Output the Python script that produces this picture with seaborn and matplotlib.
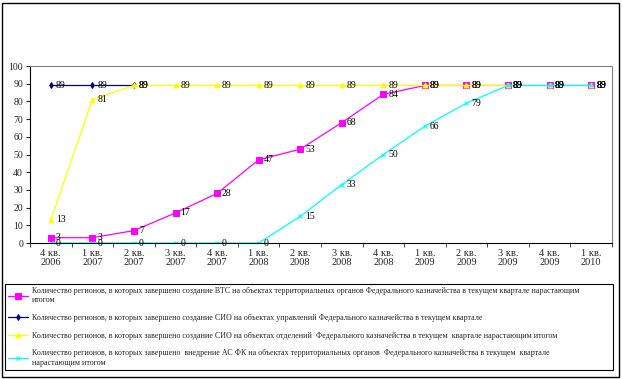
import numpy as np
import pandas as pd
import matplotlib
matplotlib.use("Agg")
import matplotlib.pyplot as plt
import seaborn as sns
from matplotlib.patches import Rectangle

# данные
quarters = ["4 кв.\n2006", "1 кв.\n2007", "2 кв.\n2007", "3 кв.\n2007", "4 кв.\n2007",
            "1 кв.\n2008", "2 кв.\n2008", "3 кв.\n2008", "4 кв.\n2008", "1 кв.\n2009",
            "2 кв.\n2009", "3 кв.\n2009", "4 кв.\n2009", "1 кв.\n2010"]
vts = [3, 3, 7, 17, 28, 47, 53, 68, 84, 89, 89, 89, 89, 89]
sio_upr = [89, 89, 89]
sio_otd = [13, 81, 89, 89, 89, 89, 89, 89, 89, 89, 89, 89, 89, 89]
as_fk = [0, 0, 0, 0, 0, 0, 15, 33, 50, 66, 79, 89, 89, 89]

labels = [
    "Количество регионов, в которых завершено создание ВТС на объектах территориальных органов Федерального казначейства в текущем квартале нарастающим\nитогом",
    "Количество регионов, в которых завершено создание СИО на объектах управлений Федерального казначейства в текущем квартале",
    "Количество регионов, в которых завершено создание СИО на объектах отделений  Федерального казначейства в текущем  квартале нарастающим итогом",
    "Количество регионов, в которых завершено  внедрение АС ФК на объектах территориальных органов  Федерального казначейства в текущем  квартале\nнарастающим итогом",
]

sns.set_style("white")
plt.rcParams['font.family'] = ['Liberation Serif', 'DejaVu Serif']

fig = plt.figure(figsize=(6.22, 3.79), dpi=100)
ax = fig.add_axes([30 / 622, 1 - 243 / 379, 582 / 622, 177 / 379])

series = [
    (vts, "#FF00FF", "s", 4, labels[0]),
    (sio_upr, "#000080", "d", 3, labels[1]),
    (sio_otd, "#FFFF00", "^", 3.5, labels[2]),
    (as_fk, "#00FFFF", "x", 3, labels[3]),
]

for vals, color, marker, ms, lab in series:
    x = np.arange(len(vals))
    sns.lineplot(x=x, y=vals, ax=ax, color=color, marker=marker, markersize=ms,
                 markeredgecolor=color, linewidth=0.9, label=lab, legend=False)
    for xi, yi in zip(x, vals):
        ax.text(xi + 0.12, yi, str(yi), fontsize=7, va="center", ha="left", color="black")

ax.set_xlim(-0.5, len(quarters) - 0.5)
ax.set_ylim(0, 100)
ax.set_yticks(range(0, 101, 10))
ax.set_xticks(range(len(quarters)))
ax.set_xticklabels(quarters, fontsize=7.5, linespacing=1.1)
ax.tick_params(axis="y", labelsize=7, length=3, direction="out", left=True, pad=2)
ax.tick_params(axis="x", which="major", length=0, pad=4)
ax.set_xticks(np.arange(-0.5, len(quarters)), minor=True)
ax.tick_params(axis="x", which="minor", length=3, direction="out", bottom=True)

for side in ["top", "right"]:
    ax.spines[side].set_linestyle((0, (1, 1)))
    ax.spines[side].set_color("#808080")
    ax.spines[side].set_linewidth(0.8)
for side in ["left", "bottom"]:
    ax.spines[side].set_color("black")
    ax.spines[side].set_linewidth(0.8)

# легенда внизу
h, l = ax.get_legend_handles_labels()
leg = fig.legend(h, l, loc="upper left", bbox_to_anchor=(5 / 622, 1 - 372 / 379, 608 / 622, 88 / 379),
                 mode="expand", ncol=1, fontsize=5.8, frameon=True, fancybox=False,
                 handlelength=2.5, handletextpad=0.4, labelspacing=1.2, borderaxespad=0,
                 borderpad=0.4, framealpha=1)
leg.get_frame().set_edgecolor("black")
leg.get_frame().set_linewidth(0.8)

fig.patches.append(Rectangle((2 / 622, 2 / 379), 617 / 622, 374 / 379, transform=fig.transFigure,
                             fill=False, edgecolor="black", linewidth=1))

fig.savefig("out.png", dpi=100)
